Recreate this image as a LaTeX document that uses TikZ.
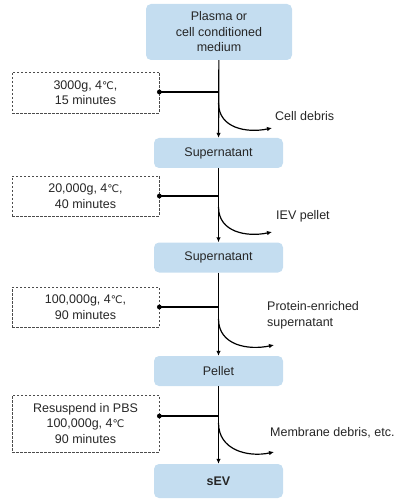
\documentclass[tikz,border=0pt]{standalone}
\usepackage{fontspec}
\setmainfont{Liberation Sans}
\newfontfamily\symfont{DejaVu Sans}
\newcommand{\degc}{{\symfont\fontsize{10.5}{12}\selectfont ℃}}
\usetikzlibrary{arrows.meta}
\definecolor{boxblue}{RGB}{196,221,240}

\begin{document}
\begin{tikzpicture}[x=1pt, y=-1pt, font=\fontsize{12.5}{15.5}\selectfont,
    >={Latex[length=5pt,width=4.5pt]},
    every node/.style={text=black!85},
    stagebox/.style={fill=boxblue, rounded corners=5pt, minimum width=129pt,
      minimum height=30pt, align=center, inner sep=0pt},
    spinbox/.style={draw=black!70, dash pattern=on 2.5pt off 1.5pt, line width=0.7pt,
      minimum width=147pt, align=center, inner sep=0pt},
    flow/.style={line width=1.2pt, ->}]
        \useasboundingbox (0,0) rectangle (395,502);
        \node[stagebox, minimum width=146pt, minimum height=56pt] (plasma) at (219,32) {Plasma or\\cell conditioned\\medium};
        \node[stagebox] (sup1) at (218.5,153) {Supernatant};
        \node[stagebox] (sup2) at (218.5,257.5) {Supernatant};
        \node[stagebox] (pellet) at (218.5,371) {Pellet};
        \node[stagebox, minimum height=34pt] (sev) at (218.5,481) {\bfseries sEV};
        \foreach \a/\b in {plasma/sup1, sup1/sup2, sup2/pellet, pellet/sev}
          \draw[flow] (\a) -- (\b);
        \node[spinbox, minimum height=41pt] (spin1) at (85.5,92.5) {3000g, 4\degc,\\15 minutes};
        \node[spinbox, minimum height=40pt] (spin2) at (85.5,196) {20,000g, 4\degc,\\40 minutes};
        \node[spinbox, minimum height=40pt] (spin3) at (85.5,307) {100,000g, 4\degc,\\90 minutes};
        \node[spinbox, minimum height=57pt] (spin4) at (85.5,423.5) {Resuspend in PBS\\100,000g, 4\degc\\90 minutes};
        \coordinate (j1) at (218.5,92);
        \coordinate (j2) at (218.5,196);
        \coordinate (j3) at (218.5,307);
        \coordinate (j4) at (218.5,416);
        \foreach \n in {1,2,3,4} {
          \draw[line width=1.2pt] (spin\n.east |- j\n) -- (j\n);
          \fill (spin\n.east |- j\n) circle (2.4pt);
        }
        \coordinate (c1) at (218.5,103);  \coordinate (e1) at (272,128);
        \coordinate (c2) at (218.5,207);  \coordinate (e2) at (272,232);
        \coordinate (c3) at (218.5,319);  \coordinate (e3) at (274,345);
        \coordinate (c4) at (218.5,423);  \coordinate (e4) at (274,452);
        \foreach \n in {1,2,3,4}
          \draw[flow] (c\n) to[out=-90, in=192, looseness=1.1] (e\n);
        \node[anchor=west, inner sep=0pt] (waste1) at (275,116) {Cell debris};
        \node[anchor=west, inner sep=0pt] (waste2) at (276,216) {IEV pellet};
        \node[anchor=west, inner sep=0pt, align=left] (waste3) at (267,315.5) {Protein-enriched\\supernatant};
        \node[anchor=west, inner sep=0pt] (waste4) at (270,433) {Membrane debris, etc.};
      \end{tikzpicture}
\end{document}
